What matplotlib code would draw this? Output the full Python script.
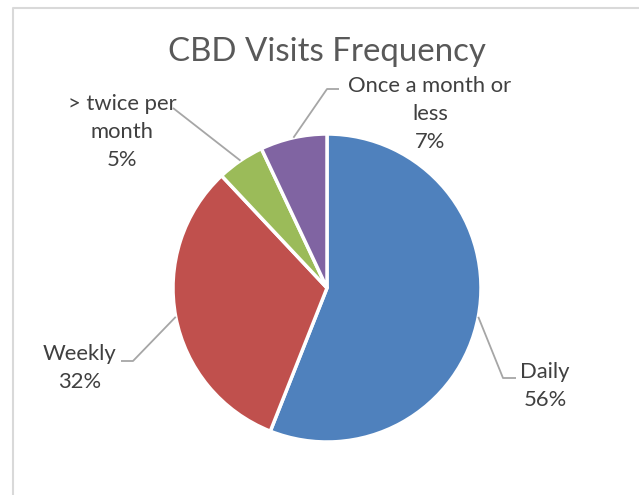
import numpy as np
import matplotlib.pyplot as plt

categories = ['Daily', 'Weekly', '> twice per\nmonth', 'Once a month or\nless']
shares = [56, 32, 5, 7]
colors = ['#4F81BD', '#C0504D', '#9BBB59', '#8064A2']

# label block centre and leader elbow, in pixels from the top-left corner
label_xy = [(545, 386), (80, 368), (122, 132), (430, 114)]
elbow_xy = [[(503, 378), (516, 378)], [(133, 361), (121, 361)],
            [(173, 108)], [(327, 89), (339, 89)]]

W, H = 639, 495
fig = plt.figure(figsize=(W / 100, H / 100), dpi=100)
ax = fig.add_axes([0, 0, 1, 1])

plt.rcParams['font.family'] = ['Lato', 'DejaVu Sans']

cx, cy, r = 327, H - 288, 154
wedges, _ = ax.pie(shares, colors=colors, startangle=90, counterclock=False,
                   center=(cx, cy), radius=r, frame=True,
                   wedgeprops=dict(edgecolor='white', linewidth=2.5))
ax.set_xlim(0, W)
ax.set_ylim(0, H)
ax.set_aspect('equal')
ax.axis('off')

for w, name, val, (lx, ly), elbow in zip(wedges, categories, shares, label_xy, elbow_xy):
    mid = np.deg2rad((w.theta1 + w.theta2) / 2)
    pts = [(cx + r * np.cos(mid), cy + r * np.sin(mid))] + [(x, H - y) for x, y in elbow]
    xs, ys = zip(*pts)
    ax.plot(xs, ys, color='#A6A6A6', lw=1.3, solid_capstyle='butt')
    ax.text(lx, H - ly, f'{name}\n{val}%', ha='center', va='center',
            multialignment='center', fontsize=15.8, color='#404040', linespacing=1.5)

ax.text(327, H - 52, 'CBD Visits Frequency', ha='center', va='center',
        fontsize=23.8, color='#595959')

# chart area border (top and left edges visible)
ax.plot([13, 13, W + 5], [-5, H - 8, H - 8], color='#D9D9D9', lw=1.5, clip_on=False)

fig.savefig('out.png', dpi=100)
